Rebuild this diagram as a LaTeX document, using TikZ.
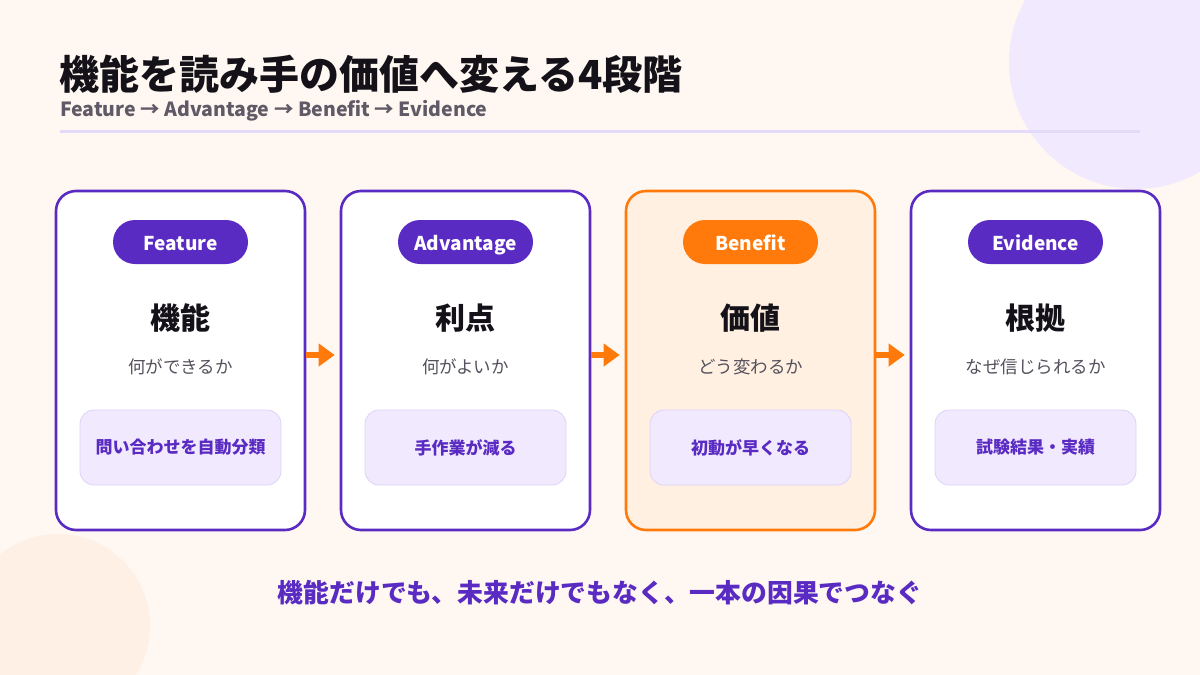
\documentclass[tikz,border=0pt]{standalone}
\usepackage{fontspec}
\setmainfont{Noto Sans CJK JP}
\usetikzlibrary{arrows.meta}
\definecolor{bg}{HTML}{FFF8F2}
\definecolor{circA}{HTML}{F1E9FE}
\definecolor{circB}{HTML}{FEF0E4}
\definecolor{purp}{HTML}{5A2BC2}
\definecolor{orng}{HTML}{FF7A0A}
\definecolor{benefill}{HTML}{FFF0E2}
\definecolor{inbox}{HTML}{F1E9FE}
\definecolor{inboxline}{HTML}{DED2F6}
\definecolor{rule}{HTML}{E3D9F8}
\definecolor{subgray}{HTML}{5F5A66}
\definecolor{cardgray}{HTML}{55505C}
\definecolor{darktext}{HTML}{141218}
\tikzset{
  card/.style={draw=#1, line width=2.6pt, rounded corners=20pt, minimum width=249pt, minimum height=339pt, inner sep=0pt},
  pill/.style={fill=#1, rounded corners=22pt, minimum width=135pt, minimum height=44pt, inner sep=0pt},
  pilltext/.style={inner sep=0pt, text=white, font=\fontsize{19}{22}\selectfont\bfseries, text height=12.5pt, text depth=0pt, yshift=-2pt},
  cardtitle/.style={text=darktext, font=\fontsize{30}{34}\selectfont\bfseries, inner sep=0pt},
  cardsub/.style={text=cardgray, font=\fontsize{17.5}{20}\selectfont, inner sep=0pt},
  innerbox/.style={fill=inbox, draw=inboxline, line width=0.8pt, rounded corners=14pt, minimum width=201pt, minimum height=75pt, inner sep=0pt, text=purp, font=\fontsize{17}{20}\selectfont\bfseries},
  flow/.style={draw=orng, line width=6pt, -{Triangle[length=16pt,width=22pt]}, shorten <=0pt, shorten >=5pt}
}
\begin{document}
\begin{tikzpicture}[x=1pt,y=-1pt]
\useasboundingbox (0,0) rectangle (1200,675);
\fill[bg] (0,0) rectangle (1200,675);
\begin{scope}
  \clip (0,0) rectangle (1200,675);
  \fill[circA] (1136,62) circle (127);
  \fill[circB] (58,626) circle (92);
\end{scope}
% header
\node[anchor=base west, inner sep=0pt, text=darktext, font=\fontsize{40}{44}\selectfont\bfseries] (title) at (59,89) {機能を読み手の価値へ変える4段階};
\node[anchor=base west, inner sep=0pt, text=subgray, font=\fontsize{19.5}{24}\selectfont\bfseries] (subtitle) at (60,116) {Feature → Advantage → Benefit → Evidence};
\draw[rule, line width=3pt] (60,131) -- (1140,131);
% cards
\node[card=purp, fill=white] (c1) at (180.5,360.5) {};
\node[card=purp, fill=white] (c2) at (465.5,360.5) {};
\node[card=orng, fill=benefill] (c3) at (750.5,360.5) {};
\node[card=purp, fill=white] (c4) at (1035.5,360.5) {};
% pills
\node[pill=purp] (p1) at (180.5,242) {};
\node[pill=purp] (p2) at (465.5,242) {};
\node[pill=orng] (p3) at (750.5,242) {};
\node[pill=purp] (p4) at (1035.5,242) {};
\node[pilltext] (pt1) at (p1.center) {Feature};
\node[pilltext] (pt2) at (p2.center) {Advantage};
\node[pilltext] (pt3) at (p3.center) {Benefit};
\node[pilltext] (pt4) at (p4.center) {Evidence};
% titles
\node[cardtitle] (t1) at (180.5,318) {機能};
\node[cardtitle] (t2) at (465.5,318) {利点};
\node[cardtitle] (t3) at (750.5,318) {価値};
\node[cardtitle] (t4) at (1035.5,318) {根拠};
% subtitles
\node[cardsub] (s1) at (180.5,367) {何ができるか};
\node[cardsub] (s2) at (465.5,367) {何がよいか};
\node[cardsub] (s3) at (750.5,367) {どう変わるか};
\node[cardsub] (s4) at (1035.5,367) {なぜ信じられるか};
% inner boxes
\node[innerbox] (b1) at (180.5,447.5) {問い合わせを自動分類};
\node[innerbox] (b2) at (465.5,447.5) {手作業が減る};
\node[innerbox] (b3) at (750.5,447.5) {初動が早くなる};
\node[innerbox] (b4) at (1035.5,447.5) {試験結果・実績};
% arrows
\draw[flow] ([yshift=5.5pt]c1.east) -- ([yshift=5.5pt]c2.west);
\draw[flow] ([yshift=5.5pt]c2.east) -- ([yshift=5.5pt]c3.west);
\draw[flow] ([yshift=5.5pt]c3.east) -- ([yshift=5.5pt]c4.west);
% footer
\node[inner sep=0pt, text=purp, font=\fontsize{25.8}{30}\selectfont\bfseries] (footer) at (600,592.5) {機能だけでも、未来だけでもなく、一本の因果でつなぐ};
\end{tikzpicture}
\end{document}
